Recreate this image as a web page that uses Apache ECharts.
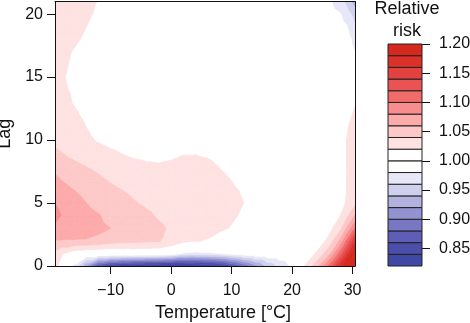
<!DOCTYPE html>
<html>
<head>
<meta charset="utf-8">
<script src="https://cdn.jsdelivr.net/npm/echarts@6/dist/echarts.min.js"></script>
<style>
  html, body { margin: 0; padding: 0; background: #fff; }
  #chart { width: 470px; height: 323px; }
</style>
</head>
<body>
<div id="chart"></div>
<script>
// grid of the surface
var temps = [-19.2, -18, -16, -14, -12, -10, -8, -6, -4, -2, 0, 2, 4, 6, 8, 10, 12, 14, 16, 18, 20, 22, 24, 26, 28, 29, 30.4];
var lags = [0, 1, 2, 3, 4, 5, 6, 7, 8, 9, 10, 11, 12, 13, 14, 15, 16, 17, 18, 19, 20, 21];

// relative risk, one row per lag (row 0 = lag 0), one column per temperature
var rrByLag = [
  [1.030, 1.005, 0.975, 0.920, 0.860, 0.835, 0.825, 0.820, 0.815, 0.812, 0.812, 0.812, 0.815, 0.820, 0.832, 0.855, 0.885, 0.915, 0.945, 0.965, 0.985, 1.020, 1.050, 1.100, 1.170, 1.210, 1.260],
  [1.032, 1.022, 1.008, 1.004, 1.003, 1.003, 1.004, 1.005, 1.005, 1.004, 0.998, 0.978, 0.975, 0.977, 0.980, 0.988, 0.995, 1.000, 1.000, 1.000, 1.000, 1.003, 1.022, 1.050, 1.110, 1.150, 1.210],
  [1.059, 1.059, 1.059, 1.059, 1.057, 1.050, 1.047, 1.045, 1.043, 1.041, 1.034, 1.025, 1.021, 1.019, 1.013, 1.008, 1.005, 1.002, 1.000, 1.000, 1.000, 1.000, 1.005, 1.025, 1.065, 1.100, 1.160],
  [1.076, 1.073, 1.069, 1.066, 1.063, 1.060, 1.056, 1.052, 1.048, 1.043, 1.038, 1.033, 1.029, 1.026, 1.023, 1.019, 1.013, 1.008, 1.005, 1.002, 1.000, 1.000, 1.003, 1.012, 1.035, 1.060, 1.100],
  [1.086, 1.079, 1.071, 1.065, 1.061, 1.056, 1.052, 1.048, 1.043, 1.038, 1.034, 1.031, 1.029, 1.027, 1.025, 1.022, 1.018, 1.010, 1.006, 1.003, 1.001, 1.000, 1.002, 1.006, 1.020, 1.035, 1.060],
  [1.080, 1.074, 1.066, 1.060, 1.055, 1.050, 1.046, 1.041, 1.037, 1.034, 1.032, 1.031, 1.031, 1.030, 1.028, 1.025, 1.020, 1.013, 1.008, 1.004, 1.002, 1.001, 1.002, 1.005, 1.013, 1.022, 1.035],
  [1.070, 1.066, 1.060, 1.055, 1.050, 1.044, 1.040, 1.036, 1.033, 1.031, 1.030, 1.030, 1.031, 1.030, 1.027, 1.023, 1.018, 1.011, 1.006, 1.003, 1.002, 1.001, 1.002, 1.005, 1.011, 1.020, 1.027],
  [1.063, 1.058, 1.052, 1.047, 1.042, 1.037, 1.033, 1.030, 1.028, 1.027, 1.027, 1.028, 1.029, 1.028, 1.024, 1.019, 1.013, 1.008, 1.005, 1.003, 1.002, 1.001, 1.002, 1.005, 1.011, 1.020, 1.027],
  [1.050, 1.047, 1.043, 1.039, 1.035, 1.031, 1.027, 1.024, 1.022, 1.021, 1.022, 1.024, 1.025, 1.024, 1.019, 1.014, 1.010, 1.006, 1.004, 1.002, 1.001, 1.001, 1.002, 1.005, 1.011, 1.020, 1.027],
  [1.043, 1.040, 1.035, 1.031, 1.027, 1.023, 1.019, 1.016, 1.015, 1.015, 1.017, 1.019, 1.019, 1.017, 1.013, 1.009, 1.006, 1.004, 1.002, 1.001, 1.000, 1.000, 1.002, 1.005, 1.011, 1.020, 1.026],
  [1.036, 1.033, 1.029, 1.024, 1.018, 1.014, 1.011, 1.009, 1.008, 1.008, 1.009, 1.010, 1.010, 1.009, 1.007, 1.005, 1.003, 1.002, 1.001, 1.000, 1.000, 1.000, 1.002, 1.005, 1.011, 1.020, 1.025],
  [1.032, 1.030, 1.026, 1.020, 1.014, 1.011, 1.009, 1.007, 1.006, 1.006, 1.006, 1.006, 1.006, 1.005, 1.004, 1.003, 1.002, 1.001, 1.000, 1.000, 1.000, 1.000, 1.002, 1.004, 1.010, 1.019, 1.024],
  [1.029, 1.027, 1.022, 1.017, 1.012, 1.009, 1.007, 1.005, 1.004, 1.004, 1.004, 1.004, 1.004, 1.003, 1.003, 1.002, 1.001, 1.000, 1.000, 1.000, 1.000, 1.000, 1.001, 1.003, 1.008, 1.016, 1.022],
  [1.027, 1.024, 1.019, 1.015, 1.011, 1.008, 1.006, 1.004, 1.003, 1.003, 1.003, 1.003, 1.003, 1.002, 1.002, 1.001, 1.000, 1.000, 1.000, 1.000, 1.000, 1.000, 1.001, 1.002, 1.006, 1.011, 1.019],
  [1.025, 1.022, 1.018, 1.014, 1.010, 1.007, 1.005, 1.004, 1.003, 1.002, 1.002, 1.002, 1.002, 1.002, 1.001, 1.001, 1.000, 1.000, 1.000, 1.000, 1.000, 0.999, 1.000, 1.001, 1.003, 1.005, 1.009],
  [1.024, 1.021, 1.017, 1.013, 1.010, 1.007, 1.005, 1.003, 1.002, 1.002, 1.002, 1.002, 1.002, 1.001, 1.001, 1.000, 1.000, 1.000, 1.000, 1.000, 0.999, 0.999, 0.999, 1.000, 1.001, 1.001, 1.000],
  [1.025, 1.022, 1.018, 1.014, 1.010, 1.007, 1.005, 1.003, 1.002, 1.002, 1.002, 1.001, 1.001, 1.001, 1.000, 1.000, 1.000, 1.000, 1.000, 0.999, 0.999, 0.999, 0.998, 0.998, 0.998, 0.997, 0.990],
  [1.026, 1.023, 1.019, 1.015, 1.011, 1.008, 1.005, 1.003, 1.002, 1.002, 1.001, 1.001, 1.001, 1.000, 1.000, 1.000, 1.000, 1.000, 0.999, 0.999, 0.999, 0.998, 0.998, 0.997, 0.996, 0.994, 0.980],
  [1.028, 1.026, 1.022, 1.018, 1.013, 1.009, 1.006, 1.004, 1.002, 1.002, 1.001, 1.001, 1.000, 1.000, 1.000, 1.000, 1.000, 0.999, 0.999, 0.999, 0.998, 0.998, 0.997, 0.995, 0.993, 0.990, 0.972],
  [1.030, 1.028, 1.024, 1.020, 1.015, 1.011, 1.007, 1.004, 1.003, 1.002, 1.001, 1.001, 1.000, 1.000, 1.000, 1.000, 0.999, 0.999, 0.999, 0.998, 0.998, 0.997, 0.996, 0.993, 0.988, 0.982, 0.962],
  [1.033, 1.031, 1.027, 1.023, 1.017, 1.012, 1.009, 1.006, 1.004, 1.003, 1.002, 1.001, 1.000, 1.000, 1.000, 0.999, 0.999, 0.999, 0.998, 0.998, 0.997, 0.996, 0.994, 0.990, 0.981, 0.970, 0.952],
  [1.035, 1.033, 1.030, 1.026, 1.019, 1.014, 1.010, 1.007, 1.005, 1.003, 1.002, 1.001, 1.000, 1.000, 1.000, 0.999, 0.999, 0.998, 0.998, 0.997, 0.996, 0.994, 0.990, 0.985, 0.968, 0.955, 0.930]
];

// colour key: band edges (low to high) and one colour per band
var breaks = [0.82, 0.84, 0.86, 0.88, 0.90, 0.92, 0.94, 0.96, 0.98, 1.00, 1.02, 1.04, 1.06, 1.08, 1.10, 1.12, 1.14, 1.16, 1.18, 1.20];
var bandColors = ['#4048a6', '#4c4eab', '#5e5eb6', '#7777c3', '#9393d2', '#b2b2e1', '#cfcfee', '#e7e7f7', '#ffffff', '#ffffff',
  '#fee2e2', '#fdc8c8', '#fcaaaa', '#f98d8d', '#f26b6b', '#ea5353', '#e34040', '#dc3129', '#d5291e'];
var legendTicks = [0.85, 0.90, 0.95, 1.00, 1.05, 1.10, 1.15, 1.20];
var xTicks = [-10, 0, 10, 20, 30];
var yTicks = [0, 5, 10, 15, 20];

var font = '"Liberation Sans", Arial, Helvetica, sans-serif';
var ink = '#111';

// keep the part of a polygon where sign * (v - level) >= 0 (v is linear on it)
function clip(poly, level, sign) {
  if (!isFinite(level)) return poly;
  var out = [];
  for (var n = 0; n < poly.length; n++) {
    var p = poly[n], q = poly[(n + 1) % poly.length];
    var pin = sign * (p.v - level) >= 0;
    var qin = sign * (q.v - level) >= 0;
    if (pin) out.push(p);
    if (pin !== qin) {
      var t = (level - p.v) / (q.v - p.v);
      out.push({ x: p.x + t * (q.x - p.x), y: p.y + t * (q.y - p.y), v: level });
    }
  }
  return out;
}

// filled contour bands from the grid, triangle by triangle
function contourBands() {
  var bands = bandColors.map(function () { return []; });
  for (var j = 0; j < lags.length - 1; j++) {
    for (var i = 0; i < temps.length - 1; i++) {
      var a = { x: temps[i], y: lags[j], v: rrByLag[j][i] };
      var b = { x: temps[i + 1], y: lags[j], v: rrByLag[j][i + 1] };
      var c = { x: temps[i + 1], y: lags[j + 1], v: rrByLag[j + 1][i + 1] };
      var d = { x: temps[i], y: lags[j + 1], v: rrByLag[j + 1][i] };
      [[a, b, c], [a, c, d]].forEach(function (tri) {
        for (var k = 0; k < bandColors.length; k++) {
          var lo = k === 0 ? -Infinity : breaks[k];
          var hi = k === bandColors.length - 1 ? Infinity : breaks[k + 1];
          var poly = clip(clip(tri, lo, 1), hi, -1);
          if (poly.length >= 3) bands[k].push(poly);
        }
      });
    }
  }
  return bands;
}
var bandPolys = contourBands();

var frameLine = { show: true, onZero: false, lineStyle: { color: ink, width: 1 } };

var chart = echarts.init(document.getElementById('chart'));
chart.setOption({
  animation: false,
  graphic: [{
    type: 'text',
    x: 407,
    y: -2,
    style: {
      text: 'Relative\nrisk',
      fontSize: 18,
      fontFamily: font,
      fill: ink,
      align: 'center',
      verticalAlign: 'top',
      lineHeight: 22
    }
  }],
  grid: [
    { left: 55, top: 1.5, width: 300, height: 264.5, containLabel: false, outerBoundsMode: 'none' },
    { left: 388, top: 44, width: 34, height: 222, containLabel: false, outerBoundsMode: 'none' }
  ],
  xAxis: [
    {
      gridIndex: 0, type: 'value', min: -19.2, max: 30.4, position: 'bottom', z: 10,
      axisLine: frameLine,
      axisTick: { show: true, length: 8, customValues: xTicks, lineStyle: { color: ink } },
      axisLabel: {
        customValues: xTicks, margin: 17, fontSize: 16, fontFamily: font, color: ink,
        formatter: function (v) { return String(v).replace('-', '\u2212'); }
      },
      splitLine: { show: false },
      name: 'Temperature [\u00b0C]', nameLocation: 'middle', nameGap: 37,
      nameTextStyle: { fontSize: 18, fontFamily: font, color: ink, padding: [0, 0, 0, 36] }
    },
    {
      gridIndex: 0, type: 'value', min: -19.2, max: 30.4, position: 'top', z: 10,
      axisLine: frameLine,
      axisTick: { show: false }, axisLabel: { show: false }, splitLine: { show: false }
    },
    { gridIndex: 1, type: 'value', min: 0, max: 1, show: false }
  ],
  yAxis: [
    {
      gridIndex: 0, type: 'value', min: 0, max: 21, position: 'left', z: 10,
      axisLine: frameLine,
      axisTick: { show: true, length: 8, customValues: yTicks, lineStyle: { color: ink } },
      axisLabel: { customValues: yTicks, margin: 12, fontSize: 16, fontFamily: font, color: ink },
      splitLine: { show: false },
      name: 'Lag', nameLocation: 'middle', nameGap: 33,
      nameTextStyle: { fontSize: 18, fontFamily: font, color: ink }
    },
    {
      gridIndex: 0, type: 'value', min: 0, max: 21, position: 'right', z: 10,
      axisLine: frameLine,
      axisTick: { show: false }, axisLabel: { show: false }, splitLine: { show: false }
    },
    {
      gridIndex: 1, type: 'value', min: 0.82, max: 1.20, position: 'right',
      axisLine: { show: false, onZero: false },
      axisTick: { show: true, length: 8, customValues: legendTicks, lineStyle: { color: ink } },
      axisLabel: {
        customValues: legendTicks, margin: 17, fontSize: 16, fontFamily: font, color: ink,
        formatter: function (v) { return v.toFixed(2); }
      },
      splitLine: { show: false }
    }
  ],
  series: [
    {
      type: 'custom',
      xAxisIndex: 0,
      yAxisIndex: 0,
      clip: true,
      silent: true,
      z: 1,
      data: [[temps[0], lags[0]]],
      renderItem: function (params, api) {
        var children = [];
        bandPolys.forEach(function (polys, k) {
          polys.forEach(function (poly) {
            children.push({
              type: 'polygon',
              shape: { points: poly.map(function (p) { return api.coord([p.x, p.y]); }) },
              style: { fill: bandColors[k], stroke: bandColors[k], lineWidth: 0.7 }
            });
          });
        });
        return { type: 'group', children: children };
      }
    },
    {
      type: 'custom',
      xAxisIndex: 2,
      yAxisIndex: 2,
      silent: true,
      data: bandColors.map(function (c, k) { return [0.5, (breaks[k] + breaks[k + 1]) / 2, k]; }),
      renderItem: function (params, api) {
        var k = api.value(2);
        var p0 = api.coord([0, breaks[k]]);
        var p1 = api.coord([1, breaks[k + 1]]);
        return {
          type: 'rect',
          shape: { x: p0[0], y: p1[1], width: p1[0] - p0[0], height: p0[1] - p1[1] },
          style: { fill: bandColors[k], stroke: '#222', lineWidth: 1 }
        };
      }
    }
  ]
});
</script>
</body>
</html>
